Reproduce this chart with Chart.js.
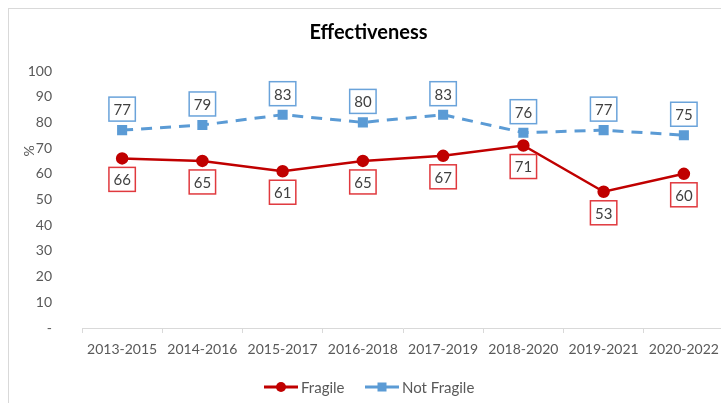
<!DOCTYPE html>
<html>
<head>
<meta charset="utf-8">
<script src="https://cdn.jsdelivr.net/npm/chart.js@4"></script>
<style>
  html, body { margin: 0; padding: 0; background: #fff; overflow: hidden; }
  #wrap { position: absolute; left: 8px; top: 8px; width: 724px; height: 395px;
          border-left: 1px solid #d9d9d9; border-top: 1px solid #d9d9d9; box-sizing: border-box; }
</style>
</head>
<body>
<div id="wrap"><canvas id="effChart"></canvas></div>
<script>
const periods = ['2013-2015', '2014-2016', '2015-2017', '2016-2018', '2017-2019', '2018-2020', '2019-2021', '2020-2022'];
const fragile = [66, 65, 61, 65, 67, 71, 53, 60];
const notFragile = [77, 79, 83, 80, 83, 76, 77, 75];
const yTicks = [0, 10, 20, 30, 40, 50, 60, 70, 80, 90, 100];

const FONT = 'Lato, "Open Sans", sans-serif';
const RED = '#c00000';
const BLUE = '#5b9bd5';

// boxed value labels, title, y title and legend
const extras = {
    id: 'extras',
    afterDatasetsDraw(chart) {
        const c = chart.ctx;
        c.save();
        c.font = '15px ' + FONT;
        c.textAlign = 'center';
        c.textBaseline = 'middle';
        chart.data.datasets.forEach((ds, i) => {
            const above = i === 1;
            chart.getDatasetMeta(i).data.forEach((pt, j) => {
                const txt = String(ds.data[j]);
                const w = c.measureText(txt).width + 9;
                const h = 24;
                const cy = above ? pt.y - 21 : pt.y + 21;
                c.fillStyle = '#fff';
                c.fillRect(pt.x - w / 2, cy - h / 2, w, h);
                c.strokeStyle = above ? '#6aa3da' : '#e0393e';
                c.lineWidth = 1.5;
                c.strokeRect(pt.x - w / 2, cy - h / 2, w, h);
                c.fillStyle = '#404040';
                c.fillText(txt, pt.x, cy + 1);
            });
        });

        // title
        c.font = 'bold 20px ' + FONT;
        c.fillStyle = '#000';
        c.fillText('Effectiveness', chart.width / 2 - 2, 24);

        // y axis title
        c.save();
        c.translate(20, 142);
        c.rotate(-Math.PI / 2);
        c.font = '14px ' + FONT;
        c.fillStyle = '#595959';
        c.fillText('%', 0, 0);
        c.restore();

        // legend
        const ly = 378;
        const items = [
            { label: 'Fragile', color: RED, x: 255, style: 'circle' },
            { label: 'Not Fragile', color: BLUE, x: 356, style: 'rect' }
        ];
        c.font = '15px ' + FONT;
        c.textAlign = 'left';
        items.forEach(it => {
            c.strokeStyle = it.color;
            c.lineWidth = 3;
            c.beginPath();
            c.moveTo(it.x, ly);
            c.lineTo(it.x + 34, ly);
            c.stroke();
            c.fillStyle = it.color;
            if (it.style === 'circle') {
                c.beginPath();
                c.arc(it.x + 17, ly, 5, 0, Math.PI * 2);
                c.fill();
            } else {
                c.fillRect(it.x + 12.5, ly - 4.5, 9, 9);
            }
            c.fillStyle = '#595959';
            c.fillText(it.label, it.x + 37, ly + 1);
        });
        c.restore();
    }
};

new Chart(document.getElementById('effChart').getContext('2d'), {
    type: 'line',
    data: {
        labels: periods,
        datasets: [{
            label: 'Fragile',
            data: fragile,
            borderColor: RED,
            backgroundColor: RED,
            borderWidth: 2.5,
            pointStyle: 'circle',
            pointRadius: 5,
            pointHoverRadius: 5,
            tension: 0
        }, {
            label: 'Not Fragile',
            data: notFragile,
            borderColor: BLUE,
            backgroundColor: BLUE,
            borderWidth: 3,
            borderDash: [11, 8],
            pointStyle: 'rect',
            pointRadius: 5,
            pointHoverRadius: 5,
            tension: 0
        }]
    },
    options: {
        responsive: true,
        maintainAspectRatio: false,
        animation: false,
        layout: { padding: { top: 62, left: 0, right: 5, bottom: 0 } },
        plugins: {
            legend: { display: false },
            title: { display: false },
            tooltip: { enabled: false }
        },
        scales: {
            x: {
                offset: true,
                grid: { display: true, drawOnChartArea: false, offset: true, tickLength: 5, color: '#d9d9d9' },
                border: { color: '#d9d9d9', width: 1 },
                ticks: { color: '#595959', font: { family: FONT, size: 14 }, padding: 8, maxRotation: 0 },
                afterFit(s) { s.height = 75; }
            },
            y: {
                min: 0,
                max: 100,
                afterBuildTicks(s) { s.ticks = yTicks.map(v => ({ value: v })); },
                grid: { display: false },
                border: { display: false },
                ticks: {
                    color: '#595959',
                    font: { family: FONT, size: 14 },
                    padding: 22,
                    callback: v => v === 0 ? '-' : v
                },
                afterFit(s) { s.width = 73; }
            }
        }
    },
    plugins: [extras]
});
</script>
</body>
</html>
